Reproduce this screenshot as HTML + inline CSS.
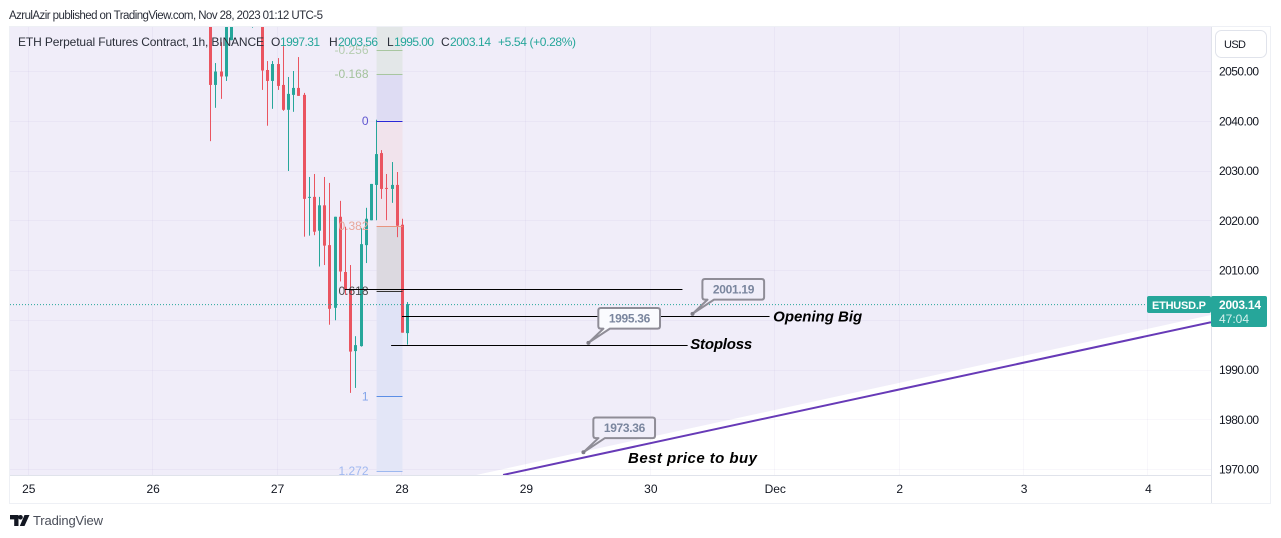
<!DOCTYPE html>
<html lang="en">
<head>
<meta charset="utf-8">
<title>ETH Perpetual Futures Contract chart</title>
<style>
html,body{margin:0;padding:0;background:#fff;width:1281px;height:538px;overflow:hidden}
svg{display:block;font-family:"Liberation Sans",sans-serif}
</style>
</head>
<body>
<svg id="chart" width="1281" height="538" viewBox="0 0 1281 538" xmlns="http://www.w3.org/2000/svg">
  <defs><clipPath id="plot-clip"><rect x="10" y="27" width="1201" height="448"/></clipPath></defs>
  <text x="9" y="19" font-size="11.5" fill="#2a2e39" textLength="314" lengthAdjust="spacing">AzrulAzir published on TradingView.com, Nov 28, 2023 01:12 UTC-5</text>
  <rect x="9.5" y="26.5" width="1261" height="477" fill="#fff" stroke="#eef0f5"/>
  <rect x="10" y="27" width="1201" height="448" fill="#f0edf9"/>
  <g id="plot" clip-path="url(#plot-clip)"></g>
  <line x1="1211.5" y1="27" x2="1211.5" y2="503" stroke="#e0e3eb"/>
  <line x1="10" y1="475.5" x2="1211" y2="475.5" stroke="#e0e3eb"/>
  <g id="price-axis"></g>
  <g id="time-axis"></g>
  <rect x="1215.5" y="30.5" width="51" height="27" rx="6" fill="#fff" stroke="#e0e3eb"/>
  <text x="1224" y="48" font-size="11" fill="#131722" textLength="22" lengthAdjust="spacing">USD</text>
  <g font-size="12">
    <text x="18" y="46" fill="#2a2e39" textLength="246" lengthAdjust="spacing">ETH Perpetual Futures Contract, 1h, BINANCE</text>
    <text x="271" y="46" fill="#2a2e39">O</text>
    <text x="280" y="46" fill="#26a69a" textLength="40" lengthAdjust="spacing">1997.31</text>
    <text x="329" y="46" fill="#2a2e39">H</text>
    <text x="338" y="46" fill="#26a69a" textLength="40" lengthAdjust="spacing">2003.56</text>
    <text x="387" y="46" fill="#2a2e39">L</text>
    <text x="394" y="46" fill="#26a69a" textLength="40" lengthAdjust="spacing">1995.00</text>
    <text x="441" y="46" fill="#2a2e39">C</text>
    <text x="450" y="46" fill="#26a69a" textLength="41" lengthAdjust="spacing">2003.14</text>
    <text x="498" y="46" fill="#26a69a" textLength="78" lengthAdjust="spacing">+5.54 (+0.28%)</text>
  </g>
  <rect x="1147" y="296" width="64" height="17" rx="2" fill="#26a69a"/>
  <text x="1152" y="309" font-size="11" font-weight="bold" fill="#fff" textLength="54" lengthAdjust="spacing">ETHUSD.P</text>
  <rect x="1211" y="296" width="56" height="31" rx="2" fill="#26a69a"/>
  <text x="1219" y="309" font-size="12" font-weight="bold" fill="#fff" textLength="42" lengthAdjust="spacing">2003.14</text>
  <text x="1219" y="323" font-size="12" fill="#d6f0ed" textLength="30" lengthAdjust="spacing">47:04</text>
  <g>
    <path d="M10 515h8.5v11h-4.3v-6.6H10zM20.5 515a2.3 2.3 0 1 1 0 4.6a2.3 2.3 0 0 1 0-4.6zM24.5 515H29.5L24.5 526H19.8z" fill="#131722"/>
    <text x="33" y="525" font-size="13" fill="#4a4e59" textLength="70" lengthAdjust="spacing">TradingView</text>
  </g>
</svg>
<script>
var priceTicks = [2050, 2040, 2030, 2020, 2010, 2000, 1990, 1980, 1970];
var priceTickLabels = ["2050.00", "2040.00", "2030.00", "2020.00", "2010.00", "2000.00", "1990.00", "1980.00", "1970.00"];
var timeTicks = [-72, -48, -24, 0, 24, 48, 72, 96, 120, 144];
var timeTickLabels = ["25", "26", "27", "28", "29", "30", "Dec", "2", "3", "4"];

var candleHours = [-37,-36,-35,-34,-33,-29,-27,-26,-25,-24,-23,-22,-21,-20,-19,-18,-17,-16,-15,-14,-13,-12,-11,-10,-9,-8,-7,-6,-5,-4,-3,-2,-1,0,1];
var opens  = [2061.3,2047.2,2049.9,2048.9,2056.2,2062,2061.3,2050.2,2048,2051.4,2047.2,2042.2,2045.2,2046.6,2045.2,2024.5,2024.7,2017.9,2023,2015,2002.4,2020.7,2009.6,2006,1993.7,1994.7,2015,2020,2027.1,2033.5,2026.5,2026.3,2027.1,2019.1,1997.31];
var highs  = [2063,2051.6,2055.8,2061.3,2063,2070,2063,2052,2052,2052.6,2055,2048.8,2050,2052.8,2045.6,2028.7,2029.3,2024.7,2028.7,2027.5,2020.7,2023.9,2018.7,2011,1996.7,2018.4,2022.5,2027.3,2040.2,2034.1,2029.3,2031.7,2029.7,2020.3,2003.56];
var lows   = [2035.9,2042.6,2044.4,2048,2056.2,2058.7,2046.2,2039,2042.4,2046.2,2042,2029.9,2041.8,2045,2016.7,2016.9,2017,2010.7,2011,1999,1999.9,2007.7,2005,1985.3,1986.3,1994.6,2011.4,2020,2020,2024.3,2020,2023.5,2016.6,1997.4,1995];
var closes = [2047.2,2049.9,2048.9,2060.3,2062.3,2064,2050.1,2048,2051.4,2047,2042.2,2045.4,2046.6,2045,2024.3,2024.7,2017.7,2023,2014.9,2002.2,2020.7,2009.7,2006,1993.6,1994.9,2015.2,2020.3,2027.3,2033.3,2026.3,2026.3,2027.1,2018.9,1997.4,2003.14];

var fibLabels = ["-0.256", "-0.168", "0", "0.382", "0.618", "1", "1.272"];
var fibPrices = [2054.2, 2049.4, 2040, 2018.8, 2005.8, 1984.6, 1969.6];
var fibColors = ["#a8c6a0", "#a8c6a0", "#2a28d8", "#e8947f", "#333333", "#5b8ee6", "#9db8ef"];
var fibTextColors = ["#b5cdb0", "#a3c29b", "#5f56d0", "#e8a79a", "#4a4a4a", "#82a4ea", "#a0b8f0"];
var fibBandColors = ["#e3e7e8", "#dedcf3", "#f1e3ec", "#dcd9e0", "#e0e3f6", "#e3e6f7"];
var fibStartHour = -5;
var fibEndHour = 0;

var lastPrice = 2003.14;
var trendHours = [19.5, 156.05];
var trendPrices = [1968.8, 1999.5];
var whiteEdgeHours = [14.3, 156.05];
var whiteEdgePrices = [1968.8, 2000.95];

var levelNames = ["fib-extension-line", "opening-big-line", "stoploss-line"];
var levelPrices = [2006.08, 2000.65, 1994.8];
var levelStartHours = [-11, 0, -2.1];
var levelEndHours = [54.1, 70.9, 55.1];

var calloutHours = [56.04, 35.96, 35];
var calloutPrices = [2001.19, 1995.36, 1973.36];
var calloutFills = ["#f0eef9", "#fafbfe", "#f0eef9"];

var noteLabels = ["Opening Big", "Stoploss", "Best price to buy"];
var noteHours = [71.6, 55.6, 43.6];
var notePrices = [2000.7, 1995.1, 1972.2];
var noteWidths = [89, 62, 129];

var UP = "#26a69a", DOWN = "#ea5460";
var SVGNS = "http://www.w3.org/2000/svg";
function xS(h) { return 402 + h * 5.184; }
function yS(p) { return 71 + (2050 - p) * 4.975; }
function mk(tag, attrs, parent) {
  var el = document.createElementNS(SVGNS, tag);
  for (var a in attrs) el.setAttribute(a, attrs[a]);
  parent.appendChild(el);
  return el;
}
var plot = document.getElementById("plot");
var paxis = document.getElementById("price-axis");
var taxis = document.getElementById("time-axis");
var el, i;

el = mk("polygon", {points: xS(whiteEdgeHours[0]) + "," + yS(whiteEdgePrices[0]) + " " + xS(whiteEdgeHours[1]) + "," + yS(whiteEdgePrices[1]) + " 1211,475", fill: "#ffffff"}, plot);



priceTicks.forEach(function (p, n) {
  var y = Math.round(yS(p)) + 0.5;
  var g = mk("line", {x1: 10, x2: 1211, y1: y, y2: y, stroke: "#6e64aa", "stroke-opacity": 0.05}, plot);
  
  
  var t = mk("text", {x: 1219, y: yS(p) + 4.5, "font-size": 12, fill: "#131722", textLength: 40, lengthAdjust: "spacing"}, paxis);
  t.textContent = priceTickLabels[n];
  
  
});

timeTicks.forEach(function (h, n) {
  var x = Math.round(xS(h)) - 0.5;
  var g = mk("line", {x1: x, x2: x, y1: 27, y2: 475, stroke: "#6e64aa", "stroke-opacity": 0.05}, plot);
  
  
  var t = mk("text", {x: xS(h), y: 493, "font-size": 12, fill: "#131722", "text-anchor": "middle"}, taxis);
  t.textContent = timeTickLabels[n];
  
  
});

var fibX1 = xS(fibStartHour) + 0.5, fibX2 = xS(fibEndHour) + 0.5;
fibBandColors.forEach(function (c, n) {
  var top = n === 0 ? 27 : yS(fibPrices[n]);
  var bottom = n === 0 ? yS(fibPrices[1]) : yS(fibPrices[n + 1]);
  var b = mk("rect", {x: fibX1, y: top, width: fibX2 - fibX1, height: bottom - top, fill: c}, plot);
  
  
});

candleHours.forEach(function (h, n) {
  var px = Math.round(xS(h));
  var up = closes[n] >= opens[n];
  var color = up ? UP : DOWN;
  var wick = mk("rect", {x: px, y: yS(highs[n]), width: 1, height: Math.max(yS(lows[n]) - yS(highs[n]), 1), fill: color}, plot);
  
  
  var top = yS(Math.max(opens[n], closes[n]));
  var bot = yS(Math.min(opens[n], closes[n]));
  var body = mk("rect", {x: px - 1, y: top, width: 3, height: Math.max(bot - top, 1), fill: color}, plot);
  
  
});

fibPrices.forEach(function (p, n) {
  var y = Math.round(yS(p)) + 0.5;
  var l = mk("line", {x1: fibX1, x2: fibX2, y1: y, y2: y, stroke: fibColors[n]}, plot);
  
  
  var t = mk("text", {x: 368.5, y: yS(p) + 4, "font-size": 12, fill: fibTextColors[n], "text-anchor": "end"}, plot);
  t.textContent = fibLabels[n];
  
  
});

var dotted = mk("line", {x1: 10, x2: 1147, y1: yS(lastPrice) + 0.5, y2: yS(lastPrice) + 0.5, stroke: UP, "stroke-dasharray": "1 2"}, plot);



levelPrices.forEach(function (p, n) {
  var y = Math.floor(yS(p)) + 0.5;
  var l = mk("line", {x1: xS(levelStartHours[n]), x2: xS(levelEndHours[n]), y1: y, y2: y, stroke: "#000000"}, plot);
  
  
});

var trend = mk("line", {x1: xS(trendHours[0]), y1: yS(trendPrices[0]), x2: xS(trendHours[1]), y2: yS(trendPrices[1]), stroke: "#673ab7", "stroke-width": 2}, plot);



calloutPrices.forEach(function (p, n) {
  var x = xS(calloutHours[n]), y = yS(p);
  var L = x + 9.9, R = x + 71.6, T = y - 34.8, B = y - 14.2, r = 2.5;
  var d = "M" + (L + r) + " " + T + "H" + (R - r) + "Q" + R + " " + T + " " + R + " " + (T + r) +
    "V" + (B - r) + "Q" + R + " " + B + " " + (R - r) + " " + B + "H" + (x + 21.5) + "L" + x + " " + y +
    "L" + (x + 15) + " " + B + "H" + (L + r) + "Q" + L + " " + B + " " + L + " " + (B - r) + "V" + (T + r) + "Q" + L + " " + T + " " + (L + r) + " " + T + "Z";
  var c = mk("path", {d: d, fill: calloutFills[n], stroke: "#8f8d97", "stroke-width": 2, "stroke-linejoin": "round"}, plot);
  
  
  var dot = mk("circle", {cx: x, cy: y, r: 2, fill: "#7f7d87"}, plot);
  
  
  var t = mk("text", {x: x + 20.4, y: y - 20.3, "font-size": 12, "font-weight": "bold", fill: "#7a869e", textLength: 41.5, lengthAdjust: "spacing"}, plot);
  t.textContent = p.toFixed(2);
  
  
});

noteLabels.forEach(function (s, n) {
  var t = mk("text", {x: xS(noteHours[n]), y: yS(notePrices[n]) + 5, "font-size": 15, "font-weight": "bold", "font-style": "italic", fill: "#000000", textLength: noteWidths[n], lengthAdjust: "spacing"}, plot);
  t.textContent = s;
  
  
});
</script>
</body>
</html>
